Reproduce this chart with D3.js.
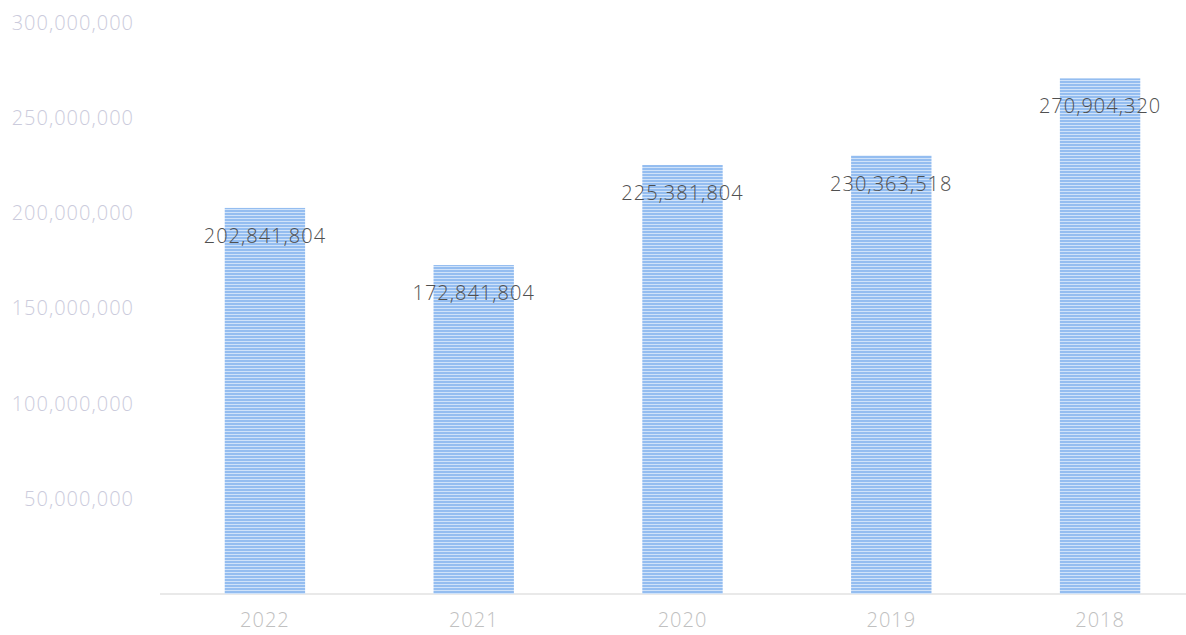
<!DOCTYPE html>
<html>
<head>
<meta charset="utf-8">
<script src="https://cdn.jsdelivr.net/npm/d3@7"></script>
<style>
  body { margin: 0; background: #fff; }
  text { font-family: "Open Sans", sans-serif; font-weight: 300; letter-spacing: 1px; }
</style>
</head>
<body>
<div id="chart"></div>
<script>
const years = ["2022", "2021", "2020", "2019", "2018"];
const values = [202841804, 172841804, 225381804, 230363518, 270904320];
const yTicks = [0, 50000000, 100000000, 150000000, 200000000, 250000000, 300000000];

const W = 1186, H = 635;
const svg = d3.select("#chart").append("svg")
    .attr("width", W)
    .attr("height", H);

// striped fill, like the scanned bars
const defs = svg.append("defs");
const pat = defs.append("pattern")
    .attr("id", "stripes")
    .attr("patternUnits", "userSpaceOnUse")
    .attr("width", 6)
    .attr("height", 3);
pat.append("rect").attr("width", 6).attr("height", 3).attr("fill", "#94bdf0");
pat.append("rect").attr("y", 2).attr("width", 6).attr("height", 1).attr("fill", "#cfe2f9");

const x = d3.scaleBand()
    .domain(years)
    .range([160, 1205])
    .paddingInner(0.615)
    .paddingOuter(0.31);

const y = d3.scaleLinear()
    .domain([0, 300000000])
    .range([594, 23]);

const fmt = d3.format(",");

// y axis labels
const yAxis = svg.append("g")
    .attr("transform", "translate(134,0)")
    .call(d3.axisLeft(y).tickValues(yTicks.slice(1)).tickFormat(fmt).tickSize(0).tickPadding(0));
yAxis.select(".domain").remove();
yAxis.selectAll("text")
    .attr("fill", "#cbcbdc")
    .style("font-size", "20px")
    .style("font-family", "'Open Sans', sans-serif")
    .style("font-weight", 300)
    .style("letter-spacing", "1px");

// baseline
svg.append("line")
    .attr("x1", 160).attr("x2", W)
    .attr("y1", y(0)).attr("y2", y(0))
    .attr("stroke", "#e2e2e2")
    .attr("stroke-width", 1.5);

// bars
svg.selectAll(".bar")
    .data(values)
    .join("rect")
    .attr("class", "bar")
    .attr("x", (d, i) => x(years[i]))
    .attr("y", d => y(d))
    .attr("width", x.bandwidth())
    .attr("height", d => y(0) - y(d))
    .attr("fill", "url(#stripes)");

// value labels
svg.selectAll(".val")
    .data(values)
    .join("text")
    .attr("class", "val")
    .attr("x", (d, i) => x(years[i]) + x.bandwidth() / 2)
    .attr("y", d => y(d) + 28)
    .attr("dy", "0.35em")
    .attr("text-anchor", "middle")
    .attr("fill", "#505050")
    .style("font-size", "20px")
    .text(d => fmt(d));

// x axis labels
const xAxis = svg.append("g")
    .attr("transform", `translate(0,${y(0)})`)
    .call(d3.axisBottom(x).tickSize(0).tickPadding(19));
xAxis.select(".domain").remove();
xAxis.selectAll("text")
    .attr("fill", "#c0c0c0")
    .style("font-size", "20px")
    .style("font-family", "'Open Sans', sans-serif")
    .style("font-weight", 300)
    .style("letter-spacing", "1px");
</script>
</body>
</html>
